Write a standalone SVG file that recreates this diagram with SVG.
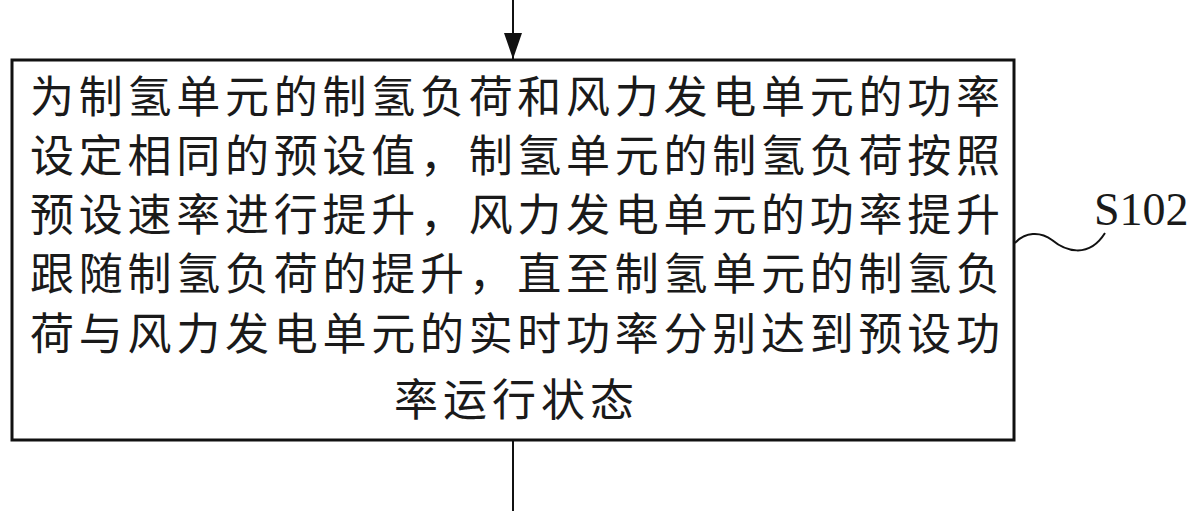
<svg xmlns="http://www.w3.org/2000/svg" width="1200" height="511" viewBox="0 0 1200 511">
<defs>
<marker id="ah" viewBox="0 0 26 18" refX="26" refY="9" markerWidth="26" markerHeight="18" markerUnits="userSpaceOnUse" orient="auto">
<path d="M0,0 L26,9 L0,18 Z" fill="#111"/>
</marker>
<style>
.t{font-family:"Noto Sans CJK SC","Noto Sans CJK JP",sans-serif;font-size:44px;fill:#1a1a1a}
.lbl{font-family:"Liberation Serif","Times New Roman",serif;font-size:46px;fill:#1a1a1a}
.ln{stroke:#111;stroke-width:2;fill:none}
</style>
</defs>
<rect width="1200" height="511" fill="#fff"/>
<g id="connectors">
<path class="ln" d="M513,0 V59" marker-end="url(#ah)"/>
<path class="ln" d="M513,441 V511"/>
<path class="ln" d="M1015,243 C1025,232 1040,231 1052,240 C1064,250 1088,260 1105,233"/>
</g>
<g id="S102">
<rect x="12" y="60" width="1002" height="380" fill="none" stroke="#111" stroke-width="3"/>
<text class="t" x="30" y="113" textLength="970" lengthAdjust="spacing">为制氢单元的制氢负荷和风力发电单元的功率</text>
<text class="t" x="30" y="172" textLength="970" lengthAdjust="spacing">设定相同的预设值，制氢单元的制氢负荷按照</text>
<text class="t" x="30" y="231" textLength="970" lengthAdjust="spacing">预设速率进行提升，风力发电单元的功率提升</text>
<text class="t" x="30" y="290" textLength="970" lengthAdjust="spacing">跟随制氢负荷的提升，直至制氢单元的制氢负</text>
<text class="t" x="30" y="350" textLength="970" lengthAdjust="spacing">荷与风力发电单元的实时功率分别达到预设功</text>
<text class="t" x="394" y="416" textLength="240" lengthAdjust="spacing">率运行状态</text>
</g>
<g id="label-S102">
<text class="lbl" x="1094" y="225">S102</text>
</g>
</svg>
